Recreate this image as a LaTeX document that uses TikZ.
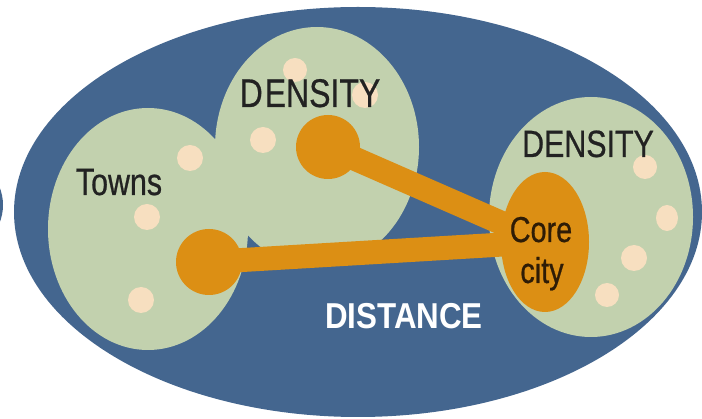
\documentclass[tikz,border=0pt]{standalone}
\usepackage{fontspec}
\usetikzlibrary{shapes.geometric}
\newfontfamily\condfont[FakeStretch=0.8,FakeBold=0.6]{Liberation Sans}
\newfontfamily\condfontb[FakeStretch=0.87]{Liberation Sans}
\definecolor{bgblue}{HTML}{44668F}
\definecolor{zonegreen}{HTML}{C2D1AE}
\definecolor{coreorange}{HTML}{DC8F14}
\definecolor{dotcream}{HTML}{F7DFC0}
\definecolor{txtdark}{HTML}{222222}
\definecolor{txtbrown}{HTML}{2E1C06}
\tikzset{
  zone/.style={fill=zonegreen, draw=none},
  hub/.style={fill=coreorange, draw=none},
  link/.style={draw=coreorange, line width=24pt},
  town/.style={fill=dotcream, draw=none},
  lbl/.style={inner sep=0pt, anchor=base, text=txtdark}
}
\begin{document}
\begin{tikzpicture}[x=1pt,y=-1pt]
\useasboundingbox (0,0) rectangle (702,419);
% outer region
\begin{scope}
\clip (0,0) rectangle (702,419);
\fill[bgblue] (-45,205) ellipse [x radius=48, y radius=48];
\fill[bgblue] (358,212) ellipse [x radius=344, y radius=205];
\end{scope}
% density zones
\fill[zone] (148,229) ellipse [x radius=100, y radius=121];
\fill[zone] (317,147) ellipse [x radius=102, y radius=120];
\fill[zone] (591,217) ellipse [x radius=102, y radius=120];
% towns
\fill[town] (295,70) circle [radius=12];
\fill[town] (263,140) circle [radius=13];
\fill[town] (190,158) circle [radius=13];
\fill[town] (147,217) circle [radius=13];
\fill[town] (141,300) circle [radius=13];
\fill[town] (365,95) circle [radius=13];
\fill[town] (645,167) circle [radius=12];
\fill[town] (667,218) ellipse [x radius=11, y radius=13];
\fill[town] (634,258) circle [radius=13];
\fill[town] (607,295) circle [radius=12];
% hubs
\node[hub, circle, minimum size=64pt, inner sep=0pt] (h1) at (328,147) {};
\node[hub, circle, minimum size=66pt, inner sep=0pt] (h2) at (209,262) {};
\node[hub, ellipse, minimum width=88pt, minimum height=140pt, inner sep=0pt] (core) at (545,242) {};
\draw[link] (h1.center) -- (core.center);
\draw[link] (h2.center) -- (core.center);
% labels
\node[lbl, font=\condfont\fontsize{40}{40}\selectfont] (d1) at (310,107) {D\kern2pt ENSITY};
\node[lbl, font=\condfont\fontsize{38}{38}\selectfont] (d2) at (588,157) {DENSITY};
\node[lbl, font=\condfont\fontsize{38}{38}\selectfont] (tw) at (119,195) {Towns};
\node[lbl, text=txtbrown, font=\condfont\fontsize{36}{36}\selectfont] (c1) at (541,242) {Core};
\node[lbl, text=txtbrown, font=\condfont\fontsize{36}{36}\selectfont] (c2) at (542,283) {city};
\node[lbl, text=white, font=\condfontb\bfseries\fontsize{36}{36}\selectfont] (dist) at (404,329) {DISTANCE};
\end{tikzpicture}
\end{document}
